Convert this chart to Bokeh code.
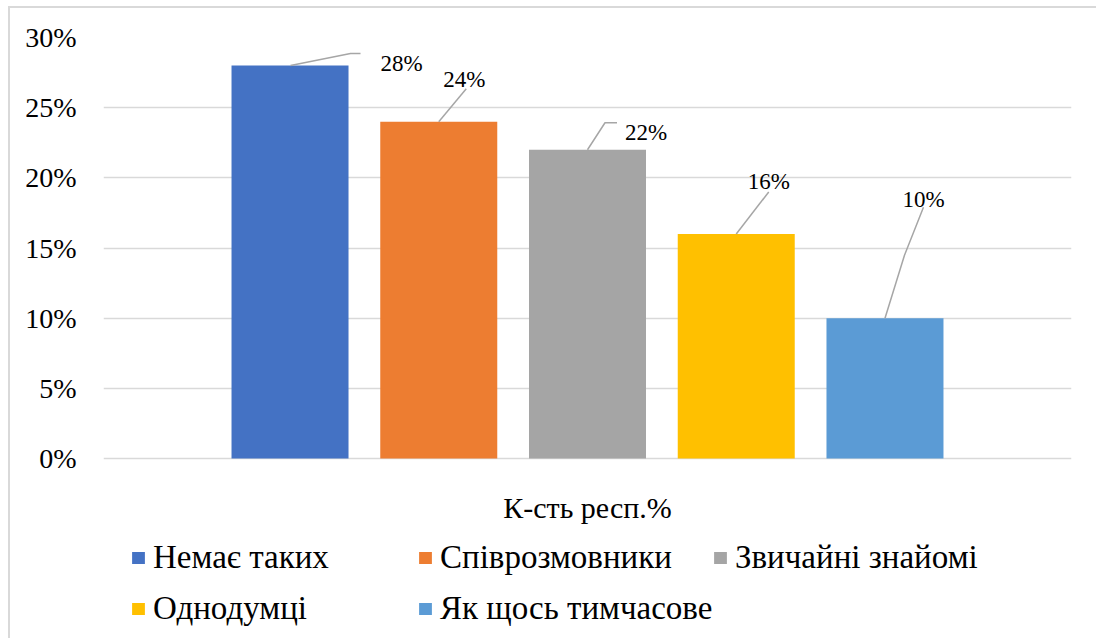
from bokeh.plotting import figure
from bokeh.layouts import column
from bokeh.models import Range1d, Legend, LegendItem, Label, ColumnDataSource, NumeralTickFormatter, FixedTicker
from bokeh.core.properties import value
from bokeh.embed import file_html
from bokeh.resources import INLINE

# ---- data ----
categories = ["Немає таких", "Співрозмовники", "Звичайні знайомі", "Однодумці", "Як щось тимчасове"]
values = [0.28, 0.24, 0.22, 0.16, 0.10]
value_labels = ["28%", "24%", "22%", "16%", "10%"]
colors = ["#4472C4", "#ED7D31", "#A5A5A5", "#FFC000", "#5B9BD5"]
y_ticks = [0, 0.05, 0.10, 0.15, 0.20, 0.25, 0.30]
axis_title = "К-сть респ.%"

# ---- label placement (screen px relative to bar-top centre; dy up) ----
label_dx = [111.5, 25.5, 58.5, 32.5, 38.5]
label_dy = [10, 50, 25, 60, 127]
leader_pts = [
    [(0.5, 0), (60.5, 12), (70.5, 12)],
    [(0, 0), (27.5, 33)],
    [(0, 0), (17.5, 27), (29.5, 27)],
    [(0, 0), (32.5, 42)],
    [(0, 0), (19.5, 63), (38.5, 111)],
]

FONT = "Liberation Serif"
W, H = 1086, 630
ML, MR, MT, MB = 93, 25, 29, 0
FW = W - ML - MR
FH = H - MT - MB
PLOT_H = 421  # pixel height of 0..30% band
pad = 1.254
x0, x1 = -pad, len(values) - 1 + pad
y1 = 0.30
ppx = FW / (x1 - x0)
ppy = PLOT_H / y1
y0 = -(FH - PLOT_H) / ppy

p = figure(width=W, height=H, x_range=Range1d(x0, x1), y_range=Range1d(y0, y1),
           output_backend="svg", toolbar_location=None,
           min_border_left=ML, min_border_right=MR, min_border_top=MT, min_border_bottom=MB)
p.outline_line_color = None
p.xaxis.visible = False
p.xgrid.visible = False
p.ygrid.grid_line_color = "#d9d9d9"
p.ygrid.grid_line_width = 1.5
p.yaxis.ticker = FixedTicker(ticks=y_ticks)
p.yaxis.formatter = NumeralTickFormatter(format="0%")
p.yaxis.axis_line_color = None
p.yaxis.major_tick_line_color = None
p.yaxis.minor_tick_line_color = None
p.yaxis.major_tick_out = 0
p.yaxis.major_tick_in = 0
p.yaxis.major_label_standoff = 27
p.yaxis.major_label_text_font = FONT
p.yaxis.major_label_text_font_size = "28px"
p.yaxis.major_label_text_color = "#000000"

xs = list(range(len(values)))
src = ColumnDataSource(dict(x=xs, top=values, color=colors, cat=categories))
bars = p.vbar(x="x", top="top", width=117 / ppx, color="color", source=src, line_color=None)

# leader lines
lx, ly = [], []
for i, pts in enumerate(leader_pts):
    lx.append([xs[i] + dx / ppx for dx, dy in pts])
    ly.append([values[i] + dy / ppy for dx, dy in pts])
p.multi_line(xs=lx, ys=ly, line_color="#a6a6a6", line_width=1.5)

# data labels (alphabetic baseline, shifted so the digits centre on the target)
p.text(x=xs, y=values, text=value_labels, x_offset=label_dx, y_offset=[-d + 8 for d in label_dy],
       text_align="center", text_baseline="alphabetic", text_font=value(FONT),
       text_font_size="23px", text_color="#000000")

# category axis title
p.add_layout(Label(x=(len(values) - 1) / 2, y=-(39 + 10) / ppy, text=axis_title, text_align="center",
                   text_baseline="alphabetic", text_font=FONT, text_font_size="30px",
                   text_color="#000000"))

# legends (three columns); location = bottom-left corner relative to frame bottom-left
cols = [[0, 3], [1, 4], [2]]
col_x = [130, 417, 712]
frame_bottom_page = 638
row_centres = [557, 608]
for cx, idxs in zip(col_x, cols):
    items = [LegendItem(label=categories[k], renderers=[bars], index=k) for k in idxs]
    bottom = row_centres[len(idxs) - 1] + 19
    leg = Legend(items=items, location=(cx - 103, frame_bottom_page - bottom), orientation="vertical",
                 glyph_width=16, glyph_height=15, label_standoff=7, padding=0, margin=0,
                 spacing=13, label_height=38, label_text_font=FONT, label_text_font_size="33px",
                 label_text_color="#000000", border_line_color=None, background_fill_alpha=0)
    p.add_layout(leg, "center")

layout = column(p, styles={"border-left": "2px solid #d9d9d9", "border-top": "2px solid #d9d9d9",
                           "margin-left": "8px", "margin-top": "6px"})

open("out.html", "w").write(file_html(layout, INLINE))
